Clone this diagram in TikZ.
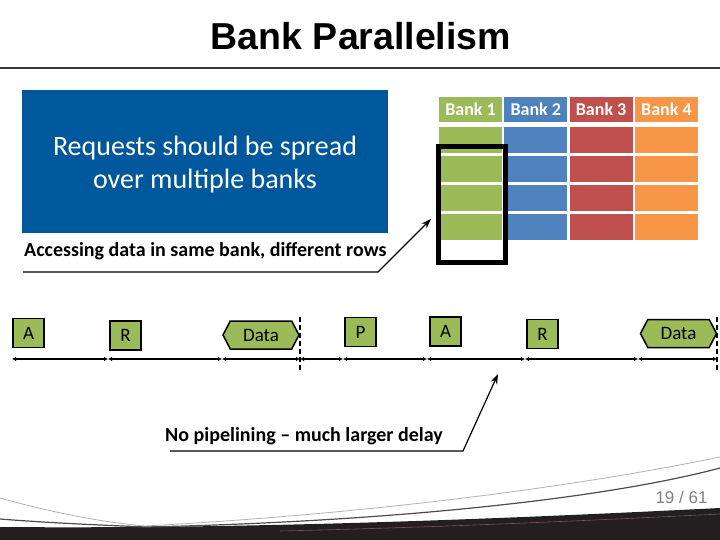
\documentclass[tikz,border=0pt]{standalone}
\usepackage{fontspec}
\setmainfont{Carlito}
\newfontfamily\arialfont{Liberation Sans}
\usetikzlibrary{arrows.meta,calc,positioning,shapes.symbols}
\definecolor{bankgreen}{HTML}{9BBB59}
\definecolor{bankblue}{HTML}{4F81BD}
\definecolor{bankred}{HTML}{C0504D}
\definecolor{bankorange}{HTML}{F79646}
\definecolor{reqblue}{HTML}{00589C}
\definecolor{rulepurple}{HTML}{3D3050}
\definecolor{bandblack}{HTML}{231F20}

\begin{document}
\begin{tikzpicture}[x=1pt,y=-1pt,>=Latex,
  cmd/.style={draw=black,fill=bankgreen,line width=1.5pt,minimum width=31pt,
    minimum height=29pt,inner sep=0pt,font=\fontsize{19}{19}\selectfont},
  datahex/.style={cmd,signal,signal to=east and west,signal pointer angle=125,
    minimum width=76pt,minimum height=28pt},
  bankcell/.style={minimum width=63pt,minimum height=26.5pt,inner sep=0pt},
  callout/.style={font=\bfseries\fontsize{20}{20}\selectfont,anchor=base west,inner sep=0pt},
  calloutline/.style={line width=1.2pt,-{Stealth[length=10pt,width=7pt]}},
  tick/.style={{Latex[length=4pt,width=4.5pt]}-{Latex[length=4pt,width=4.5pt]},line width=1.8pt}]
 \useasboundingbox (0,0) rectangle (720,540);

 % title
 \node[font=\arialfont\bfseries\fontsize{37.5}{40}\selectfont] (title) at (361,36) {Bank Parallelism};
 \draw[rulepurple,line width=2.2pt] (0,68) -- (720,68);

 \node[fill=reqblue,minimum width=366pt,minimum height=143pt,inner sep=0pt] (req) at (205,161.5) {};
 \node[text=white,align=center,font=\fontsize{28}{33}\selectfont] (reqtext) at (205,164.5)
   {Requests should be spread\\over multiple banks};

 % banks
 \foreach \col [count=\i] in {bankgreen,bankblue,bankred,bankorange}{
    \node[bankcell,fill=\col,minimum height=25pt,text=white,
       font=\bfseries\fontsize{18}{18}\selectfont] (bank\i) at ({405.2+65.3*\i},109.5) {Bank \i};
    \foreach \r in {1,...,4}
       \node[bankcell,fill=\col] (cell\i\r) at ({405.2+65.3*\i},{111+29*\r}) {};
 }
 \node[draw,line width=5pt,minimum width=67pt,minimum height=116pt,inner sep=0pt] (sel) at (471.5,204.5) {};

 \node[callout] (acc) at (24,256) {Accessing data in same bank, different rows};
 \coordinate (accstart) at (23,272);
 \coordinate (accbend) at (378,272);
 \coordinate (acctip) at (431,219);
 \draw[calloutline] (accstart) -- (accbend) -- (acctip);

 % timeline
 \foreach \x [count=\i from 0] in {12,108,222,300,343,427,525,638,717}
    \coordinate (t\i) at (\x,359);
 \foreach \i [count=\j] in {0,...,7}
    \draw[tick] (t\i) -- (t\j);
 \foreach \x [count=\i] in {300,717}{
    \coordinate (cut\i a) at (\x,317);
    \coordinate (cut\i b) at (\x,372);
    \draw[line width=1.5pt,dash pattern=on 5pt off 3pt] (cut\i a) -- (cut\i b);
 }

 \node[cmd] (a1) at (28.5,333) {A};
 \node[cmd] (r1) at (125.5,335.5) {R};
 \node[datahex] (d1) at (261,335) {Data};
 \node[cmd] (p2) at (360.5,332) {P};
 \node[cmd] (a2) at (445.5,331.5) {A};
 \node[cmd] (r2) at (542.5,334) {R};
 \node[datahex] (d2) at (678.5,333.5) {Data};

 \node[callout] (nopipe) at (165,441) {No pipelining – much larger delay};
 \coordinate (npstart) at (170,451);
 \coordinate (npbend) at (463,451);
 \coordinate (nptip) at (498,374);
 \draw[calloutline] (npstart) -- (npbend) -- (nptip);

 % footer
 \fill[bandblack] (0,527) .. controls (240,529) and (480,520) .. (720,508)
    -- (720,540) -- (0,540) -- cycle;
 \draw[black!30,line width=.8pt] (0,498) .. controls (50,512) and (100,522) .. (145,526)
    .. controls (350,515) and (560,490) .. (720,457);
 \draw[black!70,line width=1.2pt] (0,519) .. controls (50,523) and (100,525) .. (145,527)
    .. controls (380,522) and (600,500) .. (720,468);
 \draw[purple!40!black!70,line width=.6pt] (280,531) .. controls (450,527) and (600,520) .. (720,514);
 \node[text=gray,font=\arialfont\fontsize{17}{17}\selectfont] (page) at (681.5,497) {19 / 61};
\end{tikzpicture}
\end{document}
